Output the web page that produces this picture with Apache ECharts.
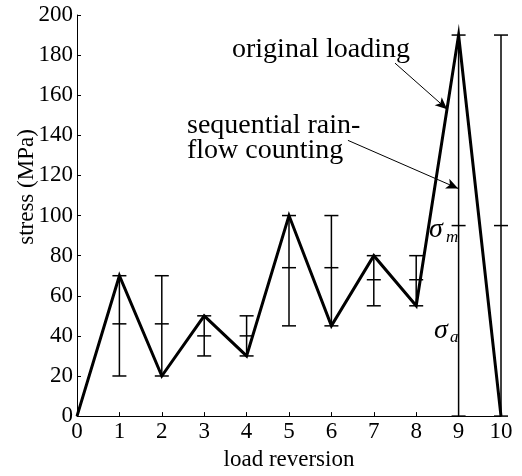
<!DOCTYPE html>
<html>
<head>
<meta charset="utf-8">
<script src="https://cdn.jsdelivr.net/npm/echarts@6/dist/echarts.min.js"></script>
<style>html,body{margin:0;padding:0;background:#fff}#c{width:522px;height:476px}</style>
</head>
<body>
<div id="c"></div>
<script>
var reversions = [0,1,2,3,4,5,6,7,8,9,10];
var stress = [0,70,20,50,30,100,45,80,55,190,0];
var barX = [1,2,3,4,5,6,7,8,9,10];
var barLow = [20,20,30,30,45,45,55,55,0,0];
var barMid = [46,46,40,40,74,74,68,68,95,95];
var barHigh = [70,70,50,50,100,100,80,80,190,190];
var yTicks = [0,20,40,60,80,100,120,140,160,180,200];

var FONT = 'Liberation Serif';
var chart = echarts.init(document.getElementById('c'), null, {renderer:'canvas'});

var lineData = reversions.map(function(x,i){return [x, stress[i]];});
var barData = barX.map(function(x,i){return [x, barLow[i], barMid[i], barHigh[i]];});

function ttl(s, x, y, size, italic, lh){
  return {text:s, left:x, top:y, padding:0, itemGap:0,
    textStyle:{fontFamily:FONT, fontSize:size, fontWeight:'normal', fontStyle: italic?'italic':'normal', color:'#000', lineHeight:lh}};
}

chart.setOption({
  animation:false,
  backgroundColor:'#fff',
  title:[
    ttl('original loading', 232, 37, 28, false, 26),
    ttl('sequential rain-\nflow counting', 187, 113, 28, false, 25),
    ttl('σ', 429, 216, 28, true, 28),
    ttl('m', 446, 229, 17, true, 17),
    ttl('σ', 434, 317, 28, true, 28),
    ttl('a', 450, 329, 17, true, 17)
  ],
  grid:{left:77,right:21,top:15,bottom:51,containLabel:false},
  xAxis:{
    type:'value',min:0,max:10,interval:1,
    name:'load reversion',nameLocation:'middle',nameGap:26,
    nameTextStyle:{fontFamily:FONT,fontSize:23,color:'#000'},
    axisLine:{show:true,onZero:false,lineStyle:{color:'#000',width:1}},
    axisTick:{show:true,inside:true,length:4,lineStyle:{color:'#000'}},
    axisLabel:{fontFamily:FONT,fontSize:23,color:'#000',margin:4},
    splitLine:{show:false}
  },
  yAxis:{
    type:'value',min:0,max:200,interval:20,
    axisLine:{show:true,lineStyle:{color:'#000',width:1}},
    axisTick:{show:true,inside:true,length:4,lineStyle:{color:'#000'}},
    axisLabel:{fontFamily:FONT,fontSize:23,color:'#000',margin:4,
      formatter:function(v){return yTicks.indexOf(v)>=0?String(v):'';}},
    splitLine:{show:false}
  },
  graphic:[
    {type:'text', x:27, y:187, rotation:Math.PI/2,
     style:{text:'stress (MPa)', fontFamily:FONT, fontSize:23, fill:'#000', align:'center', verticalAlign:'middle'}}
  ],
  series:[
    {
      type:'custom',
      data:barData,
      encode:{x:0,y:[1,2,3]},
      renderItem:function(params,api){
        var x=api.value(0);
        var pl=api.coord([x,api.value(1)]);
        var pm=api.coord([x,api.value(2)]);
        var ph=api.coord([x,api.value(3)]);
        var hw=7;
        var st={stroke:'#000',lineWidth:1.5};
        return {type:'group',children:[
          {type:'line',shape:{x1:pl[0],y1:pl[1],x2:ph[0],y2:ph[1]},style:st},
          {type:'line',shape:{x1:pl[0]-hw,y1:pl[1],x2:pl[0]+hw,y2:pl[1]},style:st},
          {type:'line',shape:{x1:pm[0]-hw,y1:pm[1],x2:pm[0]+hw,y2:pm[1]},style:st},
          {type:'line',shape:{x1:ph[0]-hw,y1:ph[1],x2:ph[0]+hw,y2:ph[1]},style:st}
        ]};
      },
      z:2
    },
    {
      type:'line',
      data:lineData,
      symbol:'none',
      lineStyle:{color:'#000',width:3,join:'miter',miterLimit:20},
      z:3,
      markLine:{
        silent:true,
        symbol:['none','arrow'],
        symbolSize:[8,12],
        label:{show:false},
        lineStyle:{color:'#000',width:1,type:'solid'},
        data:[
          [{coord:[7.5,176]},{coord:[8.73,153]}],
          [{coord:[6.39,137.5]},{coord:[8.99,113.5]}]
        ]
      }
    }
  ]
});
</script>
</body>
</html>
